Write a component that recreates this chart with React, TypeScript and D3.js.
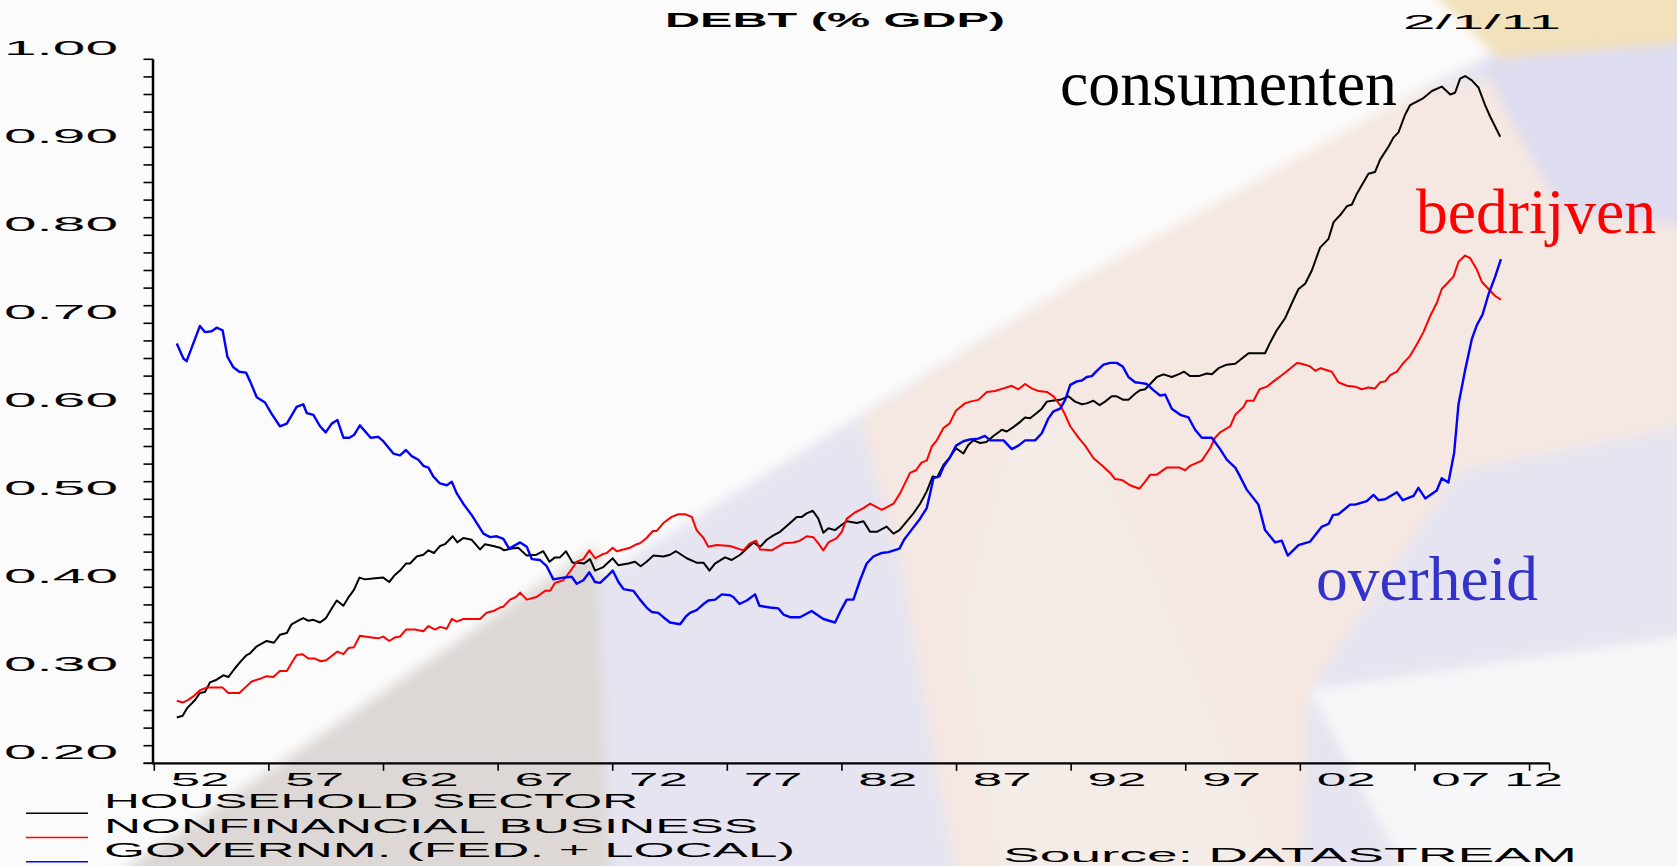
import React from "react";
import * as d3 from "d3";

// ---------- DATA (year, debt as share of GDP) ----------
const householdDebt: [number, number][] = [
  [1951.98,0.232],[1952.24,0.234],[1952.44,0.243],[1952.78,0.252],[1952.99,0.260],[1953.21,0.261],[1953.43,0.272],[1953.72,0.275],
  [1954.01,0.280],[1954.23,0.278],[1954.52,0.288],[1954.81,0.297],[1955.03,0.303],[1955.18,0.305],[1955.47,0.313],[1955.90,0.319],
  [1956.22,0.317],[1956.48,0.326],[1956.78,0.328],[1956.99,0.338],[1957.28,0.342],[1957.50,0.345],[1957.72,0.342],[1957.94,0.343],
  [1958.23,0.340],[1958.49,0.345],[1958.74,0.356],[1958.96,0.365],[1959.25,0.359],[1959.51,0.370],[1959.71,0.377],[1959.95,0.391],
  [1960.19,0.389],[1960.53,0.390],[1960.99,0.391],[1961.25,0.386],[1961.46,0.393],[1961.72,0.399],[1961.98,0.407],[1962.16,0.407],
  [1962.45,0.415],[1962.74,0.417],[1962.96,0.422],[1963.20,0.419],[1963.47,0.427],[1963.68,0.429],[1964.02,0.438],[1964.22,0.431],
  [1964.48,0.436],[1964.85,0.434],[1965.21,0.423],[1965.43,0.429],[1965.79,0.427],[1966.08,0.425],[1966.26,0.422],[1966.59,0.424],
  [1966.88,0.425],[1967.25,0.416],[1967.68,0.417],[1967.97,0.421],[1968.24,0.409],[1968.48,0.414],[1968.70,0.414],[1968.96,0.421],
  [1969.25,0.408],[1969.50,0.408],[1969.75,0.407],[1970.01,0.412],[1970.23,0.399],[1970.59,0.403],[1971.00,0.413],[1971.25,0.405],
  [1971.68,0.407],[1971.97,0.409],[1972.22,0.404],[1972.48,0.409],[1972.77,0.416],[1973.21,0.415],[1973.50,0.417],[1973.76,0.421],
  [1974.23,0.413],[1974.66,0.408],[1974.96,0.408],[1975.22,0.399],[1975.46,0.407],[1975.90,0.414],[1976.19,0.411],[1976.56,0.417],
  [1976.85,0.424],[1977.14,0.431],[1977.43,0.426],[1977.72,0.434],[1978.01,0.439],[1978.30,0.443],[1978.74,0.453],[1979.03,0.460],
  [1979.25,0.460],[1979.46,0.464],[1979.73,0.467],[1979.97,0.458],[1980.19,0.442],[1980.41,0.447],[1980.70,0.445],[1980.99,0.451],
  [1981.21,0.455],[1981.65,0.453],[1981.94,0.455],[1982.23,0.443],[1982.52,0.443],[1982.95,0.449],[1983.25,0.441],[1983.51,0.445],
  [1983.83,0.455],[1984.12,0.464],[1984.41,0.475],[1984.70,0.489],[1984.96,0.506],[1985.16,0.505],[1985.43,0.519],[1985.72,0.528],
  [1985.98,0.538],[1986.30,0.532],[1986.52,0.542],[1986.74,0.547],[1987.03,0.544],[1987.30,0.545],[1987.61,0.552],[1987.98,0.559],
  [1988.19,0.557],[1988.48,0.562],[1988.78,0.568],[1988.99,0.573],[1989.21,0.572],[1989.50,0.578],[1989.72,0.583],[1989.94,0.591],
  [1990.16,0.592],[1990.52,0.593],[1990.88,0.597],[1991.17,0.591],[1991.47,0.588],[1991.68,0.589],[1991.97,0.592],[1992.24,0.587],
  [1992.48,0.591],[1992.77,0.597],[1992.99,0.597],[1993.28,0.593],[1993.50,0.593],[1993.79,0.600],[1994.01,0.604],[1994.23,0.605],
  [1994.45,0.611],[1994.74,0.619],[1995.03,0.622],[1995.39,0.619],[1995.68,0.622],[1995.93,0.625],[1996.19,0.620],[1996.56,0.620],
  [1996.92,0.623],[1997.14,0.622],[1997.43,0.629],[1997.79,0.633],[1998.16,0.634],[1998.45,0.640],[1998.74,0.646],[1999.46,0.646],
  [1999.68,0.658],[1999.97,0.672],[2000.34,0.686],[2000.63,0.703],[2000.92,0.719],[2001.21,0.725],[2001.50,0.740],[2001.86,0.766],
  [2002.23,0.776],[2002.45,0.795],[2002.74,0.803],[2003.03,0.813],[2003.25,0.815],[2003.46,0.827],[2003.97,0.850],[2004.26,0.852],
  [2004.48,0.866],[2004.85,0.881],[2005.06,0.891],[2005.28,0.897],[2005.57,0.917],[2005.79,0.928],[2006.08,0.932],[2006.37,0.936],
  [2006.74,0.944],[2007.17,0.949],[2007.54,0.940],[2007.75,0.942],[2007.97,0.958],[2008.19,0.961],[2008.48,0.956],[2008.77,0.948],
  [2009.06,0.928],[2009.28,0.915],[2009.72,0.892],
];

const businessDebt: [number, number][] = [
  [1951.98,0.251],[1952.24,0.249],[1952.48,0.252],[1952.70,0.256],[1952.99,0.263],[1953.28,0.266],[1953.72,0.266],[1953.98,0.266],
  [1954.23,0.260],[1954.71,0.260],[1954.96,0.266],[1955.25,0.273],[1955.61,0.276],[1955.90,0.279],[1956.19,0.278],[1956.48,0.285],
  [1956.78,0.285],[1956.99,0.294],[1957.21,0.303],[1957.47,0.304],[1957.72,0.299],[1958.01,0.299],[1958.26,0.296],[1958.49,0.297],
  [1958.74,0.302],[1958.99,0.307],[1959.25,0.304],[1959.47,0.311],[1959.71,0.312],[1959.97,0.325],[1960.48,0.323],[1960.77,0.322],
  [1960.99,0.324],[1961.25,0.319],[1961.50,0.323],[1961.72,0.324],[1961.98,0.332],[1962.37,0.332],[1962.74,0.330],[1962.96,0.336],
  [1963.25,0.332],[1963.47,0.335],[1963.76,0.333],[1963.98,0.344],[1964.19,0.341],[1964.48,0.344],[1965.21,0.344],[1965.50,0.351],
  [1965.79,0.353],[1966.08,0.357],[1966.23,0.358],[1966.52,0.366],[1966.78,0.369],[1966.96,0.374],[1967.25,0.366],[1967.68,0.369],
  [1968.05,0.376],[1968.27,0.376],[1968.48,0.385],[1968.85,0.388],[1969.14,0.398],[1969.43,0.409],[1969.72,0.412],[1969.98,0.422],
  [1970.23,0.413],[1970.59,0.418],[1970.74,0.419],[1971.00,0.425],[1971.17,0.421],[1971.47,0.423],[1971.76,0.425],[1972.05,0.429],
  [1972.19,0.430],[1972.48,0.436],[1972.75,0.444],[1972.92,0.444],[1973.21,0.453],[1973.57,0.460],[1973.86,0.463],[1974.16,0.463],
  [1974.45,0.460],[1974.66,0.445],[1974.96,0.436],[1975.17,0.426],[1975.54,0.428],[1976.12,0.427],[1976.70,0.422],[1976.99,0.430],
  [1977.25,0.433],[1977.43,0.423],[1977.94,0.422],[1978.45,0.430],[1978.88,0.431],[1979.17,0.433],[1979.46,0.438],[1979.75,0.437],
  [1979.97,0.430],[1980.19,0.422],[1980.41,0.431],[1980.77,0.436],[1980.99,0.443],[1981.21,0.458],[1981.57,0.465],[1981.94,0.470],
  [1982.23,0.475],[1982.74,0.468],[1983.25,0.475],[1983.54,0.487],[1983.97,0.510],[1984.23,0.513],[1984.48,0.522],[1984.70,0.524],
  [1984.92,0.540],[1985.14,0.547],[1985.43,0.561],[1985.69,0.566],[1985.98,0.581],[1986.37,0.589],[1986.59,0.591],[1986.95,0.593],
  [1987.32,0.602],[1987.68,0.603],[1988.05,0.606],[1988.41,0.609],[1988.70,0.605],[1988.99,0.611],[1989.28,0.606],[1989.58,0.603],
  [1989.94,0.602],[1990.23,0.597],[1990.52,0.587],[1990.74,0.576],[1990.96,0.563],[1991.32,0.550],[1991.61,0.541],[1991.97,0.527],
  [1992.41,0.517],[1992.70,0.510],[1992.92,0.503],[1993.21,0.502],[1993.57,0.496],[1993.98,0.492],[1994.23,0.500],[1994.45,0.508],
  [1994.74,0.508],[1995.17,0.516],[1995.44,0.516],[1995.73,0.516],[1995.97,0.513],[1996.19,0.518],[1996.70,0.524],[1997.06,0.538],
  [1997.28,0.550],[1997.50,0.556],[1997.94,0.563],[1998.16,0.576],[1998.52,0.585],[1998.66,0.592],[1998.96,0.592],[1999.22,0.605],
  [1999.54,0.608],[1999.83,0.614],[2000.19,0.621],[2000.48,0.627],[2000.85,0.635],[2001.06,0.634],[2001.43,0.631],[2001.65,0.626],
  [2001.89,0.629],[2002.37,0.625],[2002.66,0.613],[2003.03,0.609],[2003.39,0.608],[2003.68,0.605],[2003.97,0.607],[2004.26,0.606],
  [2004.48,0.613],[2004.70,0.614],[2004.92,0.621],[2005.21,0.625],[2005.50,0.635],[2005.79,0.643],[2006.08,0.656],[2006.37,0.670],
  [2006.66,0.688],[2006.95,0.703],[2007.17,0.719],[2007.39,0.725],[2007.68,0.733],[2007.90,0.750],[2008.19,0.757],[2008.41,0.754],
  [2008.70,0.741],[2008.92,0.727],[2009.21,0.719],[2009.50,0.711],[2009.75,0.707],
];

const governmentDebt: [number, number][] = [
  [1951.98,0.657],[1952.27,0.640],[1952.41,0.637],[1952.99,0.677],[1953.21,0.670],[1953.50,0.671],[1953.72,0.675],[1953.98,0.672],
  [1954.19,0.642],[1954.45,0.630],[1954.71,0.625],[1955.00,0.624],[1955.18,0.614],[1955.47,0.596],[1955.83,0.590],[1956.12,0.577],
  [1956.48,0.563],[1956.78,0.566],[1957.21,0.585],[1957.50,0.588],[1957.65,0.578],[1957.94,0.576],[1958.23,0.563],[1958.48,0.556],
  [1958.74,0.566],[1958.99,0.570],[1959.25,0.550],[1959.51,0.550],[1959.71,0.553],[1959.97,0.564],[1960.44,0.550],[1960.77,0.551],
  [1960.99,0.546],[1961.43,0.532],[1961.72,0.530],[1961.98,0.536],[1962.23,0.529],[1962.52,0.525],[1962.74,0.518],[1962.96,0.516],
  [1963.17,0.506],[1963.46,0.498],[1963.76,0.496],[1963.98,0.500],[1964.19,0.487],[1964.48,0.475],[1964.85,0.462],[1965.07,0.453],
  [1965.36,0.441],[1965.65,0.437],[1965.94,0.438],[1966.23,0.435],[1966.48,0.424],[1966.96,0.431],[1967.25,0.426],[1967.47,0.412],
  [1967.83,0.411],[1968.12,0.404],[1968.41,0.389],[1968.85,0.391],[1969.21,0.392],[1969.43,0.384],[1969.72,0.388],[1969.98,0.397],
  [1970.23,0.386],[1970.45,0.385],[1970.74,0.392],[1971.00,0.399],[1971.25,0.386],[1971.47,0.378],[1971.90,0.376],[1972.19,0.366],
  [1972.48,0.357],[1972.70,0.352],[1972.99,0.351],[1973.21,0.346],[1973.50,0.340],[1973.94,0.338],[1974.20,0.347],[1974.37,0.351],
  [1974.66,0.354],[1974.96,0.361],[1975.17,0.365],[1975.47,0.366],[1975.76,0.372],[1976.12,0.371],[1976.26,0.369],[1976.53,0.361],
  [1976.85,0.365],[1977.21,0.372],[1977.40,0.359],[1977.86,0.357],[1978.23,0.356],[1978.45,0.349],[1978.74,0.346],[1979.17,0.346],
  [1979.68,0.353],[1979.90,0.349],[1980.19,0.344],[1980.70,0.340],[1980.92,0.352],[1981.21,0.366],[1981.50,0.366],[1981.79,0.388],
  [1982.08,0.407],[1982.37,0.415],[1982.74,0.419],[1983.03,0.420],[1983.51,0.424],[1983.71,0.434],[1983.97,0.443],[1984.41,0.458],
  [1984.70,0.470],[1984.85,0.487],[1984.99,0.504],[1985.25,0.506],[1985.43,0.517],[1985.72,0.528],[1985.98,0.541],[1986.30,0.546],
  [1986.59,0.548],[1986.95,0.549],[1987.24,0.552],[1987.47,0.547],[1988.05,0.547],[1988.41,0.537],[1988.70,0.541],[1988.99,0.547],
  [1989.43,0.547],[1989.72,0.555],[1990.01,0.572],[1990.23,0.580],[1990.52,0.583],[1990.74,0.593],[1990.96,0.610],[1991.25,0.614],
  [1991.47,0.615],[1991.68,0.619],[1991.90,0.620],[1992.12,0.626],[1992.41,0.633],[1992.70,0.635],[1992.99,0.635],[1993.25,0.631],
  [1993.50,0.619],[1993.79,0.613],[1994.08,0.612],[1994.30,0.611],[1994.59,0.604],[1994.88,0.598],[1995.10,0.599],[1995.39,0.583],
  [1995.76,0.576],[1996.12,0.573],[1996.41,0.559],[1996.70,0.550],[1997.14,0.550],[1997.50,0.537],[1997.79,0.525],[1998.16,0.516],
  [1998.37,0.506],[1998.66,0.491],[1999.17,0.474],[1999.46,0.445],[1999.90,0.431],[2000.19,0.433],[2000.45,0.416],[2000.92,0.428],
  [2001.43,0.432],[2001.94,0.449],[2002.23,0.452],[2002.42,0.462],[2002.66,0.463],[2003.17,0.474],[2003.39,0.474],[2003.90,0.478],
  [2004.19,0.485],[2004.41,0.479],[2004.70,0.480],[2005.21,0.488],[2005.47,0.479],[2005.94,0.484],[2006.15,0.493],[2006.45,0.481],
  [2006.95,0.490],[2007.17,0.504],[2007.46,0.499],[2007.71,0.533],[2007.90,0.588],[2008.19,0.627],[2008.48,0.662],[2008.70,0.678],
  [2008.95,0.690],[2009.21,0.713],[2009.50,0.733],[2009.75,0.753],
];

const seriesNames = ["HOUSEHOLD SECTOR", "NONFINANCIAL BUSINESS", "GOVERNM. (FED. + LOCAL)"];
const seriesColors = ["#000000", "#ff0000", "#0000ff"];
const annotationTexts = ["consumenten", "bedrijven", "overheid"];
const xTickYears = [1951, 1956, 1961, 1966, 1971, 1976, 1981, 1986, 1991, 1996, 2001, 2006, 2011];
const xLabelYears = [1952, 1957, 1962, 1967, 1972, 1977, 1982, 1987, 1992, 1997, 2002, 2007, 2012];
const xLabels = ["52", "57", "62", "67", "72", "77", "82", "87", "92", "97", "02", "07", "12"];
const yLabelValues = [0.2, 0.3, 0.4, 0.5, 0.6, 0.7, 0.8, 0.9, 1.0];
const titleText = "DEBT (% GDP)";
const dateText = "2/1/11";
const sourceText = "Source: DATASTREAM";

const W = 1677;
const H = 866;

export default function App() {
  const x = d3.scaleLinear().domain([1951, 2011.87]).range([154.3, 1549.5]);
  const y = d3.scaleLinear().domain([0.18, 0.98]).range([763.3, 59.3]);
  const line = d3
    .line<[number, number]>()
    .x((d) => x(d[0]))
    .y((d) => y(d[1]));
  const yTicks = d3.range(9, 50).map((i) => i * 0.02);
  const fmt = d3.format(".2f");
  const series = [householdDebt, businessDebt, governmentDebt];
  const sans = "'Liberation Sans', Arial, sans-serif";
  const serif = "'Liberation Serif', 'Times New Roman', serif";
  const xEnd = x.range()[1];

  return (
    <svg
      width={W}
      height={H}
      viewBox={`0 0 ${W} ${H}`}
      style={{ position: "absolute", left: 0, top: 0, display: "block" }}
    >
      <defs>
        <filter id="soft" x="-5%" y="-5%" width="110%" height="110%">
          <feGaussianBlur stdDeviation="6" />
        </filter>
      </defs>
      {/* slide background */}
      <rect x={0} y={0} width={W} height={H} fill="#fbfbfb" />
      <g filter="url(#soft)">
        <polygon points="80,900 1078,280 1420,90 1720,-60 1720,900" fill="#e5e4f0" />
        <polygon points="80,900 597,545 610,900" fill="#ddd8d5" />
        <polygon points="960,900 900,560 860,420 1078,280 1420,90 1720,50 1720,420 1460,470 1310,690 1300,900" fill="#f5e7e1" />
        <polygon points="1000,900 960,620 1010,430 1080,420 1150,560 1290,900" fill="#f3ece7" />
        <polygon points="1310,690 1720,630 1720,900 1420,900" fill="#f7f6f8" />
        <polygon points="1420,-20 1720,-20 1720,40 1500,60" fill="#f2e1ba" />
        <polygon points="1480,60 1720,40 1720,230 1560,210" fill="#dddcf0" />
      </g>

      {/* y axis */}
      <line x1={153} x2={153} y1={y(0.98)} y2={y(0.18)} stroke="#000" strokeWidth={2.5} />
      {yTicks.map((t) => (
        <line key={t} x1={143.5} x2={153} y1={y(t)} y2={y(t)} stroke="#000" strokeWidth={1.6} />
      ))}
      <line x1={143.5} x2={153} y1={y(0.18)} y2={y(0.18)} stroke="#000" strokeWidth={1.6} />
      {yLabelValues.map((v) => (
        <text
          key={v}
          x={118}
          y={y(v) + 13.5}
          textAnchor="end"
          fontFamily={sans}
          fontSize={21}
          textLength={114}
          lengthAdjust="spacingAndGlyphs"
          fill="#000"
        >
          {fmt(v)}
        </text>
      ))}

      {/* x axis */}
      <line x1={152} x2={xEnd} y1={y(0.18)} y2={y(0.18)} stroke="#000" strokeWidth={2.2} />
      {xTickYears.map((yr) => (
        <line key={yr} x1={x(yr)} x2={x(yr)} y1={y(0.18)} y2={y(0.18) + 7.5} stroke="#000" strokeWidth={1.6} />
      ))}
      <line x1={xEnd} x2={xEnd} y1={y(0.18)} y2={y(0.18) + 7.5} stroke="#000" strokeWidth={1.6} />
      {xLabels.map((lab, i) => (
        <text
          key={lab}
          x={Math.min(x(xLabelYears[i] + 1), xEnd - 16)}
          y={786}
          textAnchor="middle"
          fontFamily={sans}
          fontSize={18}
          textLength={59}
          lengthAdjust="spacingAndGlyphs"
          fill="#000"
        >
          {lab}
        </text>
      ))}

      {/* series */}
      {series.map((s, i) => (
        <path
          key={i}
          d={line(s) || ""}
          fill="none"
          stroke={seriesColors[i]}
          strokeWidth={i === 2 ? 2.4 : 2}
          strokeLinejoin="round"
        />
      ))}

      {/* title and date */}
      <text x={665} y={27.3} fontFamily={sans} fontWeight="bold" fontSize={20} textLength={340} lengthAdjust="spacingAndGlyphs" fill="#000">
        {titleText}
      </text>
      <text x={1403} y={29} fontFamily={sans} fontSize={20} textLength={158} lengthAdjust="spacingAndGlyphs" fill="#000">
        {dateText}
      </text>

      {/* annotations */}
      <text x={1060} y={105} fontFamily={serif} fontSize={64} textLength={337} lengthAdjust="spacingAndGlyphs" fill="#000">
        {annotationTexts[0]}
      </text>
      <text x={1416} y={233} fontFamily={serif} fontSize={64} textLength={240} lengthAdjust="spacingAndGlyphs" fill="#ff0000">
        {annotationTexts[1]}
      </text>
      <text x={1316} y={600} fontFamily={serif} fontSize={64} textLength={222} lengthAdjust="spacingAndGlyphs" fill="#3333cc">
        {annotationTexts[2]}
      </text>

      {/* legend */}
      {seriesNames.map((name, i) => (
        <g key={name}>
          <line x1={26} x2={88} y1={813.3 + i * 24.2} y2={813.3 + i * 24.2} stroke={seriesColors[i]} strokeWidth={1.6} />
          <text
            x={104}
            y={808.3 + i * 24.2}
            fontFamily={sans}
            fontSize={21}
            textLength={[534, 654, 691][i]}
            lengthAdjust="spacingAndGlyphs"
            fill="#000"
          >
            {name}
          </text>
        </g>
      ))}

      {/* source */}
      <text x={1003} y={862} fontFamily={sans} fontSize={20} textLength={574} lengthAdjust="spacingAndGlyphs" fill="#000">
        {sourceText}
      </text>
    </svg>
  );
}
